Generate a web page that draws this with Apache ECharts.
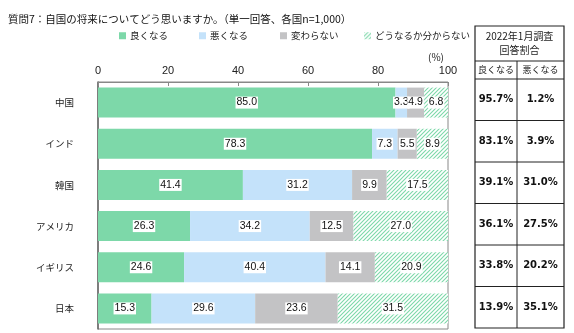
<!DOCTYPE html>
<html><head><meta charset="utf-8">
<script src="https://cdn.jsdelivr.net/npm/echarts@6/dist/echarts.min.js"></script>
<style>html,body{margin:0;padding:0;background:#fff}#c{width:574px;height:333px}</style>
</head><body><div id="c"></div>
<script>
const titleText = '質問7：自国の将来についてどう思いますか。（単一回答、各国n=1,000）';
const categories = ['中国','インド','韓国','アメリカ','イギリス','日本'];
const seriesNames = ['良くなる','悪くなる','変わらない','どうなるか分からない'];
const good = [85.0, 78.3, 41.4, 26.3, 24.6, 15.3];
const bad = [3.3, 7.3, 31.2, 34.2, 40.4, 29.6];
const same = [4.9, 5.5, 9.9, 12.5, 14.1, 23.6];
const unknown = [6.8, 8.9, 17.5, 27.0, 20.9, 31.5];
const xTicks = [0, 20, 40, 60, 80, 100];
const tableTitle = ['2022年1月調査', '回答割合'];
const tableHead = ['良くなる', '悪くなる'];
const prevGood = ['95.7%','83.1%','39.1%','36.1%','33.8%','13.9%'];
const prevBad = ['1.2%','3.9%','31.0%','27.5%','20.2%','35.1%'];

const FONT = '"Noto Sans CJK JP", "Noto Sans", sans-serif';
const NUMFONT = '"Liberation Sans", Arial, sans-serif';
const GREEN = '#7dd8a9';
function hatch(){
  const c = document.createElement('canvas');
  c.width = 4; c.height = 4;
  const x = c.getContext('2d');
  x.fillStyle = '#ffffff'; x.fillRect(0,0,4,4);
  x.strokeStyle = GREEN; x.lineWidth = 1.1;
  x.beginPath();
  x.moveTo(-1,5); x.lineTo(5,-1);
  x.moveTo(-1,1); x.lineTo(1,-1);
  x.moveTo(3,5); x.lineTo(5,3);
  x.stroke();
  return c;
}
const hatchFill = {image: hatch(), repeat: 'repeat'};
const colors = [GREEN, '#c4e2fa', '#c3c3c5', hatchFill];
const dataSets = [good, bad, same, unknown];
const legendLeft = [114, 194, 275, 359];

const chart = echarts.init(document.getElementById('c'), null, {renderer:'canvas'});

const gridL = 98, gridT = 82, gridW = 350, gridH = 247;
const tL = 475, tR = 564, tMid = 517, tTop = 26, tH1 = 61, tH2 = 79, tBot = 328;
const rowH = (tBot - tH2) / categories.length;

const graphics = [];
graphics.push({type:'text', left: 428, top: 52, style:{text:'(%)', font:'10px '+FONT, fill:'#222'}});
const lineStyle = {stroke:'#222', lineWidth:1};
graphics.push({type:'rect', shape:{x:tL, y:tTop, width:tR-tL, height:tBot-tTop}, style:{fill:'none', stroke:'#222', lineWidth:1.2}});
graphics.push({type:'line', shape:{x1:tL,y1:tH1,x2:tR,y2:tH1}, style:lineStyle});
graphics.push({type:'line', shape:{x1:tL,y1:tH2,x2:tR,y2:tH2}, style:lineStyle});
graphics.push({type:'line', shape:{x1:tMid,y1:tH1,x2:tMid,y2:tBot}, style:lineStyle});
for (let i=1;i<categories.length;i++){
  const y = tH2 + rowH*i;
  graphics.push({type:'line', shape:{x1:tL,y1:y,x2:tR,y2:y}, style:lineStyle});
}
const cx = (tL+tR)/2;
graphics.push({type:'text', x:cx, y:36, style:{text:tableTitle[0], font:'10px '+FONT, fill:'#222', align:'center', verticalAlign:'middle'}});
graphics.push({type:'text', x:cx, y:50, style:{text:tableTitle[1], font:'10px '+FONT, fill:'#222', align:'center', verticalAlign:'middle'}});
graphics.push({type:'text', x:(tL+tMid)/2, y:(tH1+tH2)/2, style:{text:tableHead[0], font:'9px '+FONT, fill:'#222', align:'center', verticalAlign:'middle'}});
graphics.push({type:'text', x:(tMid+tR)/2, y:(tH1+tH2)/2, style:{text:tableHead[1], font:'9px '+FONT, fill:'#222', align:'center', verticalAlign:'middle'}});
for (let i=0;i<categories.length;i++){
  const y = tH2 + rowH*(i+0.5);
  graphics.push({type:'text', x:(tL+tMid)/2, y:y, style:{text:prevGood[i], font:'bold 10px "DejaVu Sans", sans-serif', fill:'#111', align:'center', verticalAlign:'middle'}});
  graphics.push({type:'text', x:(tMid+tR)/2, y:y, style:{text:prevBad[i], font:'bold 10px "DejaVu Sans", sans-serif', fill:'#111', align:'center', verticalAlign:'middle'}});
}

const series = seriesNames.map((n, k) => ({
  name: n, type: 'bar', stack: 'total', barWidth: 30,
  data: dataSets[k],
  itemStyle: {color: colors[k]},
  label: {show: true, position: 'inside', formatter: p => p.value.toFixed(1),
    fontFamily: NUMFONT, fontSize: 10.5, color: '#111',
    backgroundColor: '#fff', padding: [1,1,0,1]},
  emphasis: {disabled: true}
}));

chart.setOption({
  animation: false,
  textStyle: {fontFamily: FONT},
  title: {text: titleText, left: 3, top: 9, textStyle: {fontSize: 10.5, fontWeight: 'normal', color: '#111', fontFamily: FONT}},
  legend: seriesNames.map((n,k)=>({
    data: [{name:n, itemStyle:{color: colors[k]}}],
    left: legendLeft[k], top: 26, icon: 'rect', itemWidth: 7, itemHeight: 7, itemGap: 4,
    textStyle: {fontSize: 9.5, color: '#222', fontFamily: FONT, padding:[0,0,0,-1]}
  })),
  grid: {left: gridL, top: gridT, width: gridW, height: gridH, show: true, borderColor: '#888', borderWidth: 1},
  xAxis: {type: 'value', position: 'top', min: 0, max: 100, interval: 20,
    axisLine: {show: true, lineStyle: {color: '#888'}},
    axisTick: {show: true, inside: true, length: 4, lineStyle: {color: '#888'}},
    axisLabel: {fontSize: 11, color: '#222', margin: 6, fontFamily: NUMFONT},
    splitLine: {show: false}},
  yAxis: {type: 'category', inverse: true, data: categories,
    axisLine: {show: true, lineStyle: {color: '#666', width: 1.5}},
    axisTick: {show: false},
    axisLabel: {fontSize: 9.5, color: '#222', margin: 24, fontFamily: FONT}},
  series: series,
  graphic: graphics
});
</script></body></html>
